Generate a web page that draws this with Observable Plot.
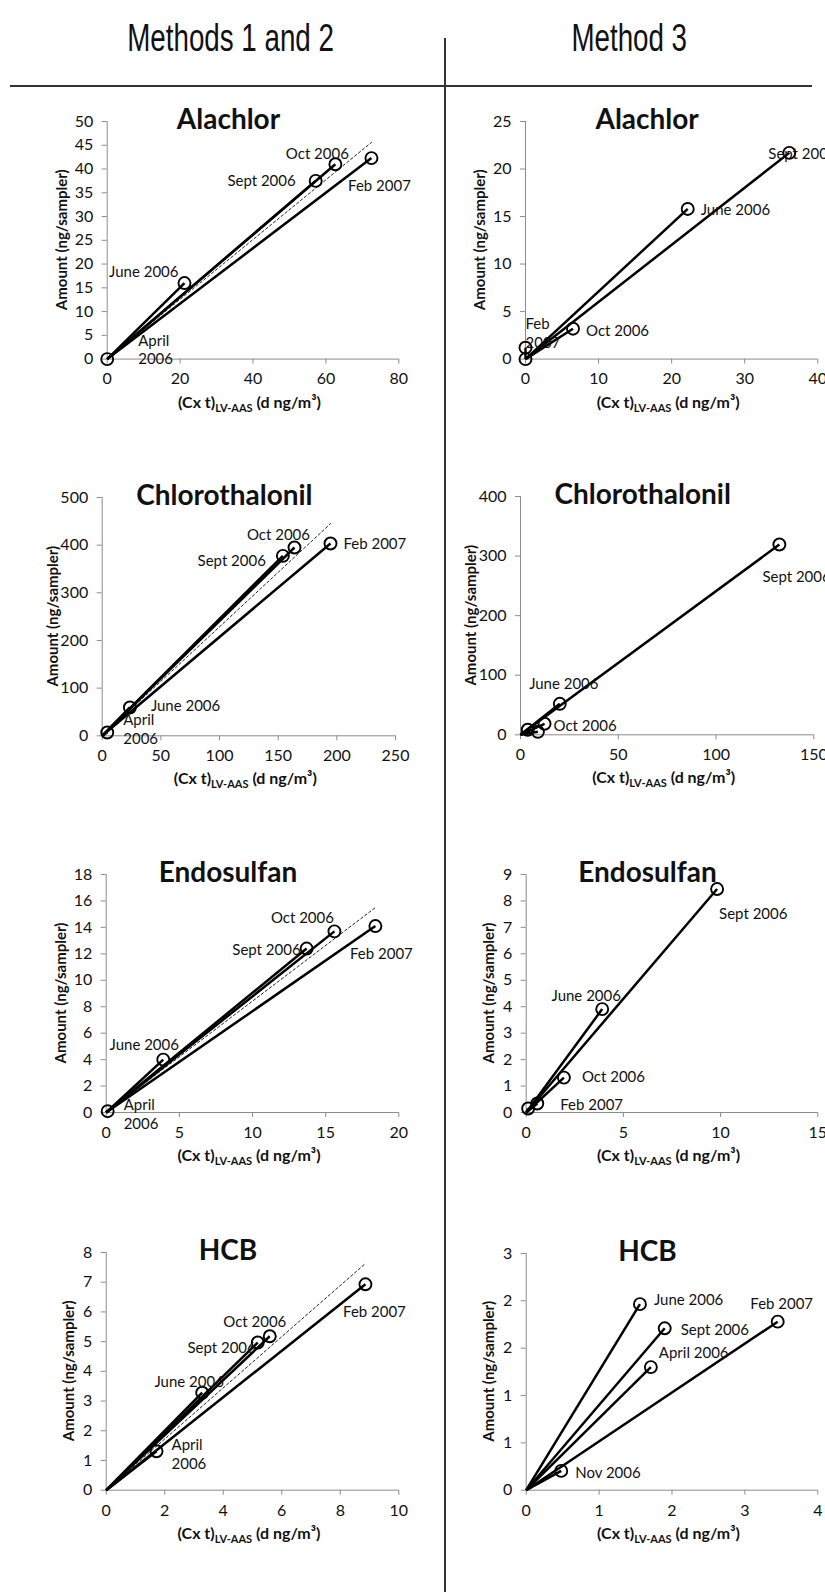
<!DOCTYPE html>
<html><head><meta charset="utf-8">
<script src="https://cdn.jsdelivr.net/npm/d3@7"></script>
<script src="https://cdn.jsdelivr.net/npm/@observablehq/plot@0.6"></script>
<style>
html,body{margin:0;padding:0;background:#fff;}
body{width:825px;height:1592px;position:relative;overflow:hidden;font-family:Lato,"Open Sans",sans-serif;}
.head{position:absolute;width:400px;text-align:center;font-family:"Liberation Sans",Arial,sans-serif;font-size:38px;line-height:38px;color:#111;}
.head span{display:inline-block;transform:scaleX(0.73);transform-origin:50% 50%;white-space:nowrap;}
.rule{position:absolute;background:#333;}
.panel{position:absolute;}
.panel svg{display:block;max-width:none;}
.panel svg g[aria-label="x-axis"] line,.panel svg g[aria-label="y-axis"] line,
.panel svg g[aria-label="x-axis tick"],.panel svg g[aria-label="y-axis tick"]{stroke:#8c8c8c;}
</style></head>
<body>
<div class="head" style="left:31px;top:19px;"><span>Methods 1 and 2</span></div>
<div class="head" style="left:429px;top:19px;"><span>Method 3</span></div>
<div class="rule" style="left:10px;top:85px;width:802px;height:2px;"></div>
<div class="rule" style="left:444px;top:38px;width:2px;height:1554px;"></div>
<script>
// ---------- DATA ----------
// Alachlor, Methods 1 and 2
const alachlorM12Label = ["April 2006", "June 2006", "Sept 2006", "Oct 2006", "Feb 2007"];
const alachlorM12X = [0, 21.2, 57.2, 62.6, 72.5];
const alachlorM12Y = [0, 16.0, 37.5, 41.0, 42.3];
const alachlorM12Dotted = [72.5, 45.6];
const alachlorM12XTicks = [0, 20, 40, 60, 80];
const alachlorM12YTicks = [0, 5, 10, 15, 20, 25, 30, 35, 40, 45, 50];

// Alachlor, Method 3
const alachlorM3Label = ["", "Feb 2007", "Oct 2006", "June 2006", "Sept 2006"];
const alachlorM3X = [0, 0, 6.5, 22.2, 36.1];
const alachlorM3Y = [0, 1.2, 3.2, 15.8, 21.7];
const alachlorM3XTicks = [0, 10, 20, 30, 40];
const alachlorM3YTicks = [0, 5, 10, 15, 20, 25];

// Chlorothalonil, Methods 1 and 2
const chloroM12Label = ["April 2006", "June 2006", "Sept 2006", "Oct 2006", "Feb 2007"];
const chloroM12X = [4.3, 23.6, 154, 163.9, 194.6];
const chloroM12Y = [7, 59.4, 377.6, 395.1, 403.5];
const chloroM12Dotted = [194.6, 445];
const chloroM12XTicks = [0, 50, 100, 150, 200, 250];
const chloroM12YTicks = [0, 100, 200, 300, 400, 500];

// Chlorothalonil, Method 3
const chloroM3Label = ["", "", "Oct 2006", "June 2006", "Sept 2006"];
const chloroM3X = [3.7, 8.9, 12.3, 20.1, 132.4];
const chloroM3Y = [8.5, 5, 18.5, 52, 319.4];
const chloroM3XTicks = [0, 50, 100, 150];
const chloroM3YTicks = [0, 100, 200, 300, 400];

// Endosulfan, Methods 1 and 2
const endoM12Label = ["April 2006", "June 2006", "Sept 2006", "Oct 2006", "Feb 2007"];
const endoM12X = [0.1, 3.9, 13.7, 15.6, 18.4];
const endoM12Y = [0.1, 4.0, 12.4, 13.7, 14.1];
const endoM12Dotted = [18.4, 15.5];
const endoM12XTicks = [0, 5, 10, 15, 20];
const endoM12YTicks = [0, 2, 4, 6, 8, 10, 12, 14, 16, 18];

// Endosulfan, Method 3
const endoM3Label = ["", "Feb 2007", "Oct 2006", "June 2006", "Sept 2006"];
const endoM3X = [0.1, 0.57, 1.94, 3.91, 9.82];
const endoM3Y = [0.15, 0.34, 1.32, 3.91, 8.45];
const endoM3XTicks = [0, 5, 10, 15];
const endoM3YTicks = [0, 1, 2, 3, 4, 5, 6, 7, 8, 9];

// HCB, Methods 1 and 2
const hcbM12Label = ["April 2006", "June 2006", "Sept 2006", "Oct 2006", "Feb 2007"];
const hcbM12X = [1.72, 3.28, 5.18, 5.59, 8.86];
const hcbM12Y = [1.31, 3.28, 4.97, 5.18, 6.93];
const hcbM12Dotted = [8.86, 7.63];
const hcbM12XTicks = [0, 2, 4, 6, 8, 10];
const hcbM12YTicks = [0, 1, 2, 3, 4, 5, 6, 7, 8];

// HCB, Method 3
const hcbM3Label = ["Nov 2006", "April 2006", "June 2006", "Sept 2006", "Feb 2007"];
const hcbM3X = [0.48, 1.71, 1.56, 1.90, 3.45];
const hcbM3Y = [0.204, 1.30, 1.965, 1.71, 1.78];
const hcbM3XTicks = [0, 1, 2, 3, 4];
const hcbM3YTicks = [0, 0.5, 1, 1.5, 2, 2.5];
const hcbM3YTickLabels = ["0", "1", "1", "2", "2", "3"];

// ---------- LAYOUT (page pixels of each plot frame; label placement) ----------
const panels = [
  {title: "Alachlor", label: alachlorM12Label, x: alachlorM12X, y: alachlorM12Y, dotted: alachlorM12Dotted,
   xTicks: alachlorM12XTicks, yTicks: alachlorM12YTicks,
   geom: {col: 0, L: 106.7, R: 398.3, T: 120.7, B: 358.3},
   place: [["start", 31, -10, true], ["end", -6, -12], ["end", -20, -1], ["middle", -18, -11], ["middle", 8, 27]]},
  {title: "Alachlor", label: alachlorM3Label, x: alachlorM3X, y: alachlorM3Y,
   xTicks: alachlorM3XTicks, yTicks: alachlorM3YTicks,
   geom: {col: 1, L: 525, R: 817.3, T: 120.7, B: 358.3},
   place: [null, ["start", 0, -15, true], ["start", 13, 1], ["start", 13, 0], ["start", -21, 0]]},
  {title: "Chlorothalonil", label: chloroM12Label, x: chloroM12X, y: chloroM12Y, dotted: chloroM12Dotted,
   xTicks: chloroM12XTicks, yTicks: chloroM12YTicks,
   geom: {col: 0, L: 101.7, R: 395, T: 496.7, B: 735},
   place: [["start", 16, -4, true], ["start", 21, -2], ["end", -17, 4], ["middle", -16, -13], ["start", 13, 0]]},
  {title: "Chlorothalonil", label: chloroM3Label, x: chloroM3X, y: chloroM3Y,
   xTicks: chloroM3XTicks, yTicks: chloroM3YTicks,
   geom: {col: 1, L: 520, R: 813.3, T: 496, B: 734.3},
   place: [null, null, ["start", 9, 1], ["middle", 4, -21], ["start", -17, 31]]},
  {title: "Endosulfan", label: endoM12Label, x: endoM12X, y: endoM12Y, dotted: endoM12Dotted,
   xTicks: endoM12XTicks, yTicks: endoM12YTicks,
   geom: {col: 0, L: 105.7, R: 398.3, T: 874.3, B: 1112.3},
   place: [["start", 16, 2, true], ["middle", -19, -16], ["end", -6, 0], ["middle", -32, -14], ["middle", 6, 27]]},
  {title: "Endosulfan", label: endoM3Label, x: endoM3X, y: endoM3Y,
   xTicks: endoM3XTicks, yTicks: endoM3YTicks,
   geom: {col: 1, L: 525.7, R: 817.3, T: 874.3, B: 1112.3},
   place: [null, ["start", 23, 0], ["start", 18, -2], ["middle", -16, -14], ["start", 2, 24]]},
  {title: "HCB", label: hcbM12Label, x: hcbM12X, y: hcbM12Y, dotted: hcbM12Dotted,
   xTicks: hcbM12XTicks, yTicks: hcbM12YTicks,
   geom: {col: 0, L: 105.7, R: 398.3, T: 1252.3, B: 1490},
   place: [["start", 15, 2, true], ["middle", -13, -12], ["end", -2, 4], ["middle", -15, -15], ["middle", 9, 27]]},
  {title: "HCB", label: hcbM3Label, x: hcbM3X, y: hcbM3Y,
   xTicks: hcbM3XTicks, yTicks: hcbM3YTicks, yTickLabels: hcbM3YTickLabels,
   geom: {col: 1, L: 525.7, R: 817.3, T: 1253.3, B: 1490},
   place: [["start", 14, 1], ["start", 8, -15], ["start", 14, -5], ["start", 16, 1], ["middle", 4, -19]]}
];

function frameText(title, yOff) {
  return (index, scales, values, dims) => {
    const {width, height, marginLeft, marginRight, marginTop, marginBottom} = dims;
    const L = marginLeft, R = width - marginRight, T = marginTop, B = height - marginBottom;
    const g = d3.create("svg:g").attr("fill", "#111");
    g.append("text").attr("x", (L + R) / 2 - 24).attr("y", T + 8)
      .attr("text-anchor", "middle").attr("font-weight", "bold").attr("font-size", 28).text(title);
    const xl = g.append("text").attr("x", (L + R) / 2 - 3).attr("y", B + 49)
      .attr("text-anchor", "middle").attr("font-weight", "bold").attr("font-size", 16);
    xl.append("tspan").text("(Cx t)");
    xl.append("tspan").attr("font-size", 11).attr("dy", 4).text("LV-AAS");
    xl.append("tspan").attr("dy", -4).text(" (d ng/m³)");
    g.append("text").attr("transform", `translate(${L - yOff},${(T + B) / 2}) rotate(-90)`)
      .attr("text-anchor", "middle").attr("dy", "0.35em").attr("font-weight", "bold")
      .attr("font-size", 15).text("Amount (ng/sampler)");
    return g.node();
  };
}

for (const p of panels) {
  const g = p.geom;
  const svgLeft = g.col ? 447 : 0, svgW = g.col ? 378 : 440;
  const svgTop = g.T - 50, svgH = g.B - g.T + 120;
  const data = p.label.map((l, i) => ({label: l, x: p.x[i], y: p.y[i]}));
  const fmtY = p.yTickLabels ? (d => p.yTickLabels[p.yTicks.indexOf(d)]) : (d => String(d));
  const maxLen = d3.max(p.yTicks, d => fmtY(d).length);
  const yOff = maxLen >= 3 ? 49 : maxLen === 2 ? 45 : 37;
  const marks = [
    Plot.ruleY([0], {stroke: "#8c8c8c", strokeWidth: 1}),
    Plot.ruleX([0], {stroke: "#8c8c8c", strokeWidth: 1})
  ];
  if (p.dotted) marks.push(Plot.line([[0, 0], p.dotted], {stroke: "#222", strokeWidth: 1, strokeDasharray: "2.5,2.5"}));
  marks.push(Plot.link(data, {x1: () => 0, y1: () => 0, x2: "x", y2: "y", stroke: "#000", strokeWidth: 2.5}));
  marks.push(Plot.dot(data, {x: "x", y: "y", r: 6, stroke: "#000", strokeWidth: 1.9, fill: "none"}));
  data.forEach((d, i) => {
    const pl = p.place[i];
    if (!d.label || !pl) return;
    const [anchor, dx, dy, wrap] = pl;
    marks.push(Plot.text([d], {x: "x", y: "y", text: v => wrap ? v.label.replace(" ", "\n") : v.label,
      textAnchor: anchor, dx, dy, lineAnchor: "middle", lineHeight: 1.25, fontSize: 15, fill: "#111"}));
  });
  marks.push(frameText(p.title, yOff));
  const chart = Plot.plot({
    width: svgW, height: svgH,
    marginLeft: g.L - svgLeft, marginRight: svgLeft + svgW - g.R,
    marginTop: 50, marginBottom: 70,
    style: {fontFamily: "Lato, 'Open Sans', sans-serif", fontSize: "16px", color: "#111", background: "transparent", overflow: "hidden"},
    x: {domain: [0, p.xTicks[p.xTicks.length - 1]], ticks: p.xTicks, tickSize: 5, tickPadding: 9, label: null, tickFormat: d => String(d)},
    y: {domain: [0, p.yTicks[p.yTicks.length - 1]], ticks: p.yTicks, tickSize: 5, tickPadding: 9, label: null, tickFormat: fmtY},
    marks
  });
  const div = document.createElement("div");
  div.className = "panel";
  div.style.left = svgLeft + "px";
  div.style.top = svgTop + "px";
  div.style.width = svgW + "px";
  div.style.height = svgH + "px";
  div.appendChild(chart);
  document.body.appendChild(div);
}
</script>
</body></html>
